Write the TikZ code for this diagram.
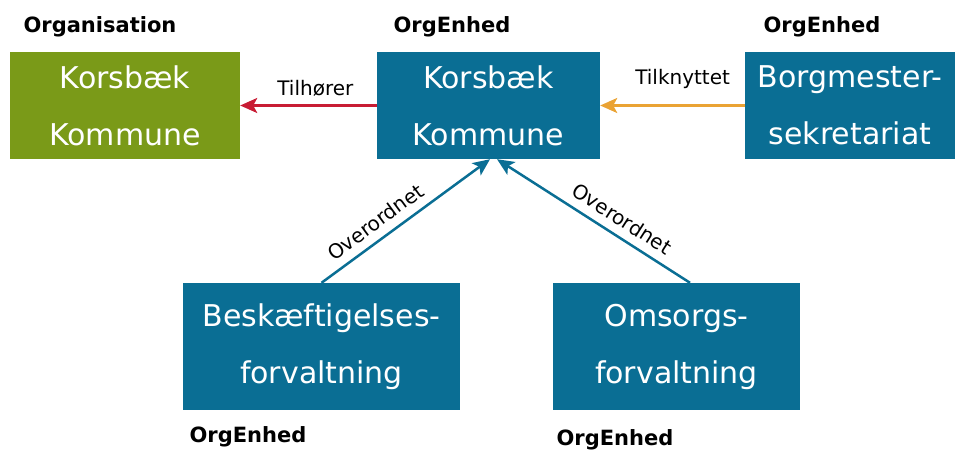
\documentclass[tikz,border=0pt]{standalone}
\usepackage{fontspec}
\setmainfont{DejaVu Sans}
\usetikzlibrary{arrows.meta,positioning}

\definecolor{orggreen}{RGB}{122,154,24}
\definecolor{enhedblue}{RGB}{10,110,148}
\definecolor{relred}{RGB}{200,28,52}
\definecolor{relorange}{RGB}{234,163,52}

\tikzset{
  enhed/.style={fill=enhedblue, text=white, align=center, inner sep=0pt,
    font=\fontsize{30}{57}\selectfont},
  typelbl/.style={font=\bfseries\fontsize{21}{24}\selectfont, inner sep=0pt},
  rel/.style={line width=2.5pt, -{Stealth[length=17pt,width=15pt,inset=4pt]}},
  rellbl/.style={font=\fontsize{20}{24}\selectfont, text=black},
}

\begin{document}
\begin{tikzpicture}[x=1pt,y=1pt]
	\useasboundingbox (0,0) rectangle (963,453);
	
	% Boks for organisation og enheder
	\node[enhed, fill=orggreen, minimum width=230, minimum height=107] (org) at (125,347.5) {Korsbæk\\Kommune};
	\node[enhed, minimum width=223, minimum height=107] (kommune) at (488.5,347.5) {Korsbæk\\Kommune};
	\node[enhed, minimum width=210, minimum height=107] (borg) at (850,347.5) {Borgmester-\\sekretariat};
	\node[enhed, minimum width=277, minimum height=127] (besk) at (321.5,106.5) {Beskæftigelses-\\forvaltning};
	\node[enhed, minimum width=247, minimum height=127] (omsorg) at (676.5,106.5) {Omsorgs-\\forvaltning};
	
	% Typer
	\node[typelbl] (typeOrg) at (100,426) {Organisation};
	\node[typelbl] (typeKommune) at (452,426) {OrgEnhed};
	\node[typelbl] (typeBorg) at (822,426) {OrgEnhed};
	\node[typelbl] (typeBesk) at (248,16) {OrgEnhed};
	\node[typelbl] (typeOmsorg) at (615,13) {OrgEnhed};
	
	% Relationer
	\coordinate (tipA) at ([xshift=1.5pt]kommune.south);
	\coordinate (tipB) at ([xshift=8.5pt]kommune.south);
	\coordinate (omsTop) at ([xshift=13.5pt]omsorg.north);
	
	\draw[rel, relred] (kommune) -- node[rellbl, pos=0.45, above=4pt] {Tilhører} (org);
	\draw[rel, relorange] (borg) -- node[rellbl, pos=0.43, above=12pt] {Tilknyttet} (kommune);
	\draw[rel, enhedblue] (besk.north) -- node[rellbl, pos=0.38, sloped, above=5pt] {Overordnet} (tipA);
	\draw[rel, enhedblue] (omsTop) -- node[rellbl, pos=0.40, sloped, above=5pt] {Overordnet} (tipB);
\end{tikzpicture}
\end{document}
